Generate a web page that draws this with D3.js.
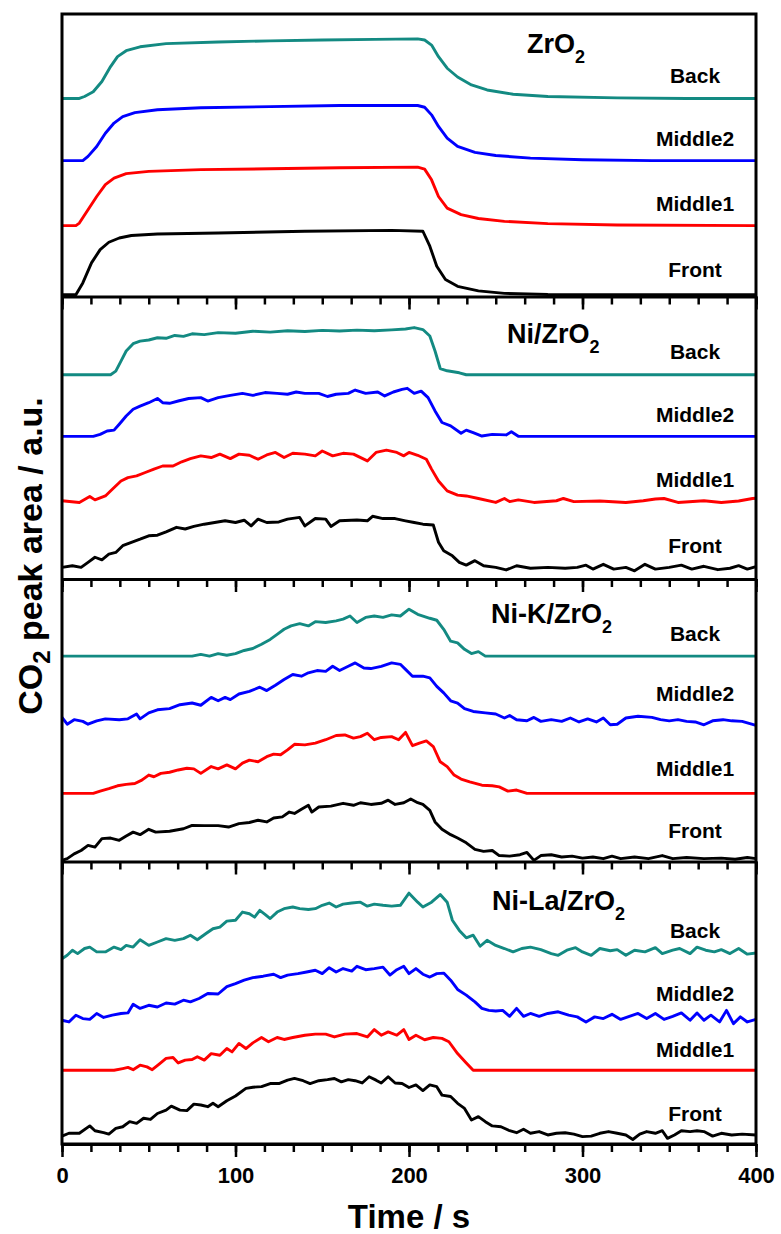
<!DOCTYPE html>
<html>
<head>
<meta charset="utf-8">
<title>CO2 peak area</title>
<script src="https://d3js.org/d3.v7.min.js"></script>
<style>
body { margin: 0; background: #fff; }
svg { display: block; font-family: Arial, 'Liberation Sans', sans-serif; font-weight: bold; }
.curve { fill: none; stroke-width: 2.9; stroke-linejoin: round; }
.frame { fill: none; stroke: #000; stroke-width: 3; }
.tick line { stroke: #000; stroke-width: 2.5; }
</style>
</head>
<body>
<div id="chart"></div>
<script>
// [time (s), CO2 peak area (a.u., 0-100 within each panel)]
var zro2Back = [[0,70.1],[10,70.1],[13,70.8],[18,72.5],[23,76.1],[28,81.4],[32,84.9],[37,87.0],[45,88.4],[60,89.5],[90,90.1],[120,90.5],[150,90.8],[180,91.0],[205,91.2],[209,90.8],[213,89.0],[217,84.9],[222,80.8],[228,77.7],[236,74.9],[245,73.1],[260,71.6],[280,70.8],[320,70.3],[360,70.1],[400,70.1]];
var zro2Middle2 = [[0,48.1],[12,48.1],[15,49.6],[20,53.1],[25,57.8],[30,61.4],[35,63.7],[42,65.1],[55,66.1],[80,66.8],[120,67.2],[160,67.6],[205,67.6],[209,67.0],[213,64.3],[217,60.2],[222,56.1],[228,53.1],[238,51.0],[250,49.9],[270,49.0],[300,48.4],[340,48.1],[400,48.1]];
var zro2Middle1 = [[0,25.1],[8,25.1],[10,26.0],[15,30.7],[20,35.4],[25,39.6],[30,41.9],[37,43.5],[50,44.3],[80,44.9],[120,45.2],[160,45.6],[205,45.8],[209,45.1],[213,41.3],[217,35.4],[222,31.3],[230,29.0],[240,27.6],[255,26.6],[280,25.8],[320,25.3],[400,25.1]];
var zro2Front = [[0,0.6],[8,0.6],[12,4.8],[17,11.9],[22,16.6],[27,19.2],[33,20.7],[40,21.6],[55,22.1],[90,22.5],[140,23.1],[190,23.4],[208,23.1],[212,17.8],[216,10.7],[221,6.0],[228,3.6],[240,2.0],[255,1.1],[280,0.7],[400,0.6]];

var niBack = [[0,72.3],[28,72.3],[31,73.6],[34,77.1],[37,80.7],[41,83.3],[45,84.2],[50,84.6],[55,85.4],[60,85.2],[65,86.2],[70,85.9],[75,86.8],[82,86.5],[90,87.2],[100,87.0],[110,87.7],[120,87.4],[130,87.9],[140,87.6],[150,88.0],[160,87.8],[170,88.1],[180,87.9],[190,88.2],[198,88.5],[203,89.0],[208,88.3],[212,86.0],[215,80.7],[218,74.5],[222,73.7],[229,73.0],[233,72.3],[400,72.3]];
var niMiddle2 = [[0,50.5],[18,50.5],[22,51.2],[26,52.4],[30,52.7],[33,54.8],[37,57.7],[41,60.1],[45,61.2],[50,62.4],[55,63.9],[58,62.4],[62,62.2],[67,63.0],[73,63.9],[80,64.2],[84,63.0],[90,64.2],[97,65.0],[104,65.7],[110,65.0],[117,66.0],[124,65.7],[130,65.4],[135,66.2],[140,65.7],[148,65.7],[153,64.6],[158,65.4],[165,65.7],[169,66.9],[175,65.7],[182,66.2],[186,64.8],[191,66.2],[196,67.1],[199,67.5],[203,65.7],[207,66.5],[211,64.2],[215,59.5],[219,55.4],[224,54.2],[230,51.6],[233,52.7],[237,51.8],[242,50.6],[248,51.2],[256,51.0],[259,52.1],[263,50.5],[400,50.5]];
var niMiddle1 = [[0,27.7],[10,27.1],[16,29.2],[19,28.0],[25,29.4],[29,31.8],[34,34.7],[38,35.9],[43,36.5],[48,37.7],[53,38.9],[58,40.0],[64,40.0],[69,41.5],[74,42.6],[80,43.6],[86,43.0],[91,44.2],[97,42.6],[102,44.2],[108,43.8],[113,42.4],[118,43.9],[123,44.8],[128,43.0],[133,44.5],[140,44.2],[146,43.6],[150,45.3],[156,43.6],[162,44.5],[168,44.2],[176,41.8],[181,44.8],[187,45.6],[193,44.8],[197,43.6],[200,44.8],[205,43.8],[210,42.4],[213,38.9],[217,34.7],[222,31.2],[228,29.7],[233,29.4],[240,28.5],[250,27.1],[255,28.5],[258,27.4],[263,28.0],[272,27.1],[285,27.7],[289,28.5],[295,27.4],[310,27.6],[325,27.1],[335,27.7],[342,28.3],[347,28.5],[355,27.1],[370,27.7],[380,27.1],[390,27.6],[398,28.5],[400,28.6]];
var niFront = [[0,4.1],[6,4.7],[11,4.1],[15,5.9],[19,7.7],[23,6.8],[27,8.8],[31,9.4],[35,11.8],[40,13.0],[45,14.1],[50,15.3],[55,15.5],[60,16.7],[66,18.3],[71,17.7],[76,18.6],[82,19.4],[88,20.0],[94,20.6],[100,20.0],[105,20.8],[109,18.8],[113,21.2],[118,20.0],[125,20.2],[130,21.2],[137,21.8],[140,18.8],[146,21.4],[152,21.2],[155,18.6],[160,20.6],[170,20.9],[176,20.6],[179,22.2],[185,21.4],[192,21.4],[198,20.6],[203,20.0],[208,19.4],[214,19.1],[217,13.0],[220,10.0],[225,8.2],[229,5.9],[233,4.9],[238,6.5],[243,4.7],[250,4.1],[256,3.2],[262,4.7],[270,3.8],[280,4.1],[290,3.8],[297,4.1],[302,4.9],[306,3.5],[312,5.2],[318,3.5],[325,4.1],[330,2.9],[336,5.2],[342,3.5],[350,4.1],[357,4.9],[363,3.5],[370,4.5],[378,3.3],[385,3.8],[390,4.7],[395,3.5],[400,4.4]];

var nikBack = [[0,72.7],[75,72.7],[80,73.3],[85,72.7],[90,73.6],[95,73.0],[100,73.6],[105,74.7],[110,75.4],[115,76.9],[120,78.6],[124,80.4],[128,82.2],[132,83.4],[137,84.2],[142,83.4],[146,84.9],[152,84.6],[158,85.2],[162,85.8],[166,86.9],[170,84.6],[175,86.4],[180,86.9],[185,86.4],[190,87.3],[195,86.9],[200,89.3],[205,87.5],[212,86.1],[216,85.4],[220,82.2],[224,78.0],[228,77.4],[232,75.1],[236,73.6],[240,74.3],[244,72.7],[400,72.7]];
var nikMiddle2 = [[0,51.0],[3,48.6],[7,50.2],[12,49.6],[15,48.6],[20,49.8],[25,50.5],[33,50.2],[38,50.5],[43,52.2],[45,50.5],[50,52.6],[55,53.7],[62,54.1],[68,55.5],[75,56.1],[80,55.3],[86,58.1],[90,56.9],[94,58.1],[97,57.3],[102,59.3],[108,60.2],[114,61.7],[118,60.5],[123,62.4],[128,64.4],[133,66.2],[138,65.6],[142,66.8],[147,67.6],[152,67.3],[156,69.1],[160,67.6],[165,69.1],[169,70.3],[174,68.5],[178,68.3],[184,69.1],[190,70.3],[195,69.8],[198,68.0],[202,65.6],[208,65.6],[212,65.0],[216,62.0],[220,59.7],[224,56.9],[228,56.1],[232,54.1],[237,53.1],[244,52.6],[250,52.2],[255,50.8],[258,51.7],[262,50.2],[268,49.8],[272,51.0],[276,49.6],[282,50.2],[288,49.6],[293,50.8],[298,49.4],[303,50.5],[308,49.4],[312,50.8],[316,48.4],[320,48.6],[325,50.8],[332,51.4],[340,51.0],[345,50.2],[350,49.8],[355,50.2],[360,49.6],[365,49.4],[370,48.4],[375,49.8],[381,50.2],[386,49.8],[392,49.6],[400,48.2]];
var nikMiddle1 = [[0,24.1],[18,24.1],[22,24.9],[27,25.8],[32,26.8],[37,27.3],[42,27.6],[46,28.8],[50,30.6],[53,30.0],[57,31.2],[62,31.6],[67,32.4],[72,33.0],[76,32.8],[80,31.2],[86,33.6],[90,32.8],[95,34.2],[100,32.8],[104,34.8],[108,35.9],[113,35.3],[118,37.1],[122,38.0],[126,37.8],[130,39.5],[134,41.5],[140,41.3],[146,41.9],[152,43.1],[158,44.6],[163,44.8],[168,43.7],[172,44.2],[176,45.4],[180,43.1],[184,43.9],[190,44.2],[194,43.1],[198,45.7],[202,41.0],[206,41.9],[210,42.7],[214,40.7],[218,35.3],[222,33.6],[226,30.6],[230,29.2],[235,28.2],[242,27.0],[248,26.8],[252,26.4],[257,24.9],[262,25.3],[268,24.1],[400,24.1]];
var nikFront = [[0,0.4],[3,1.0],[7,2.7],[11,3.9],[15,5.7],[19,5.1],[23,8.1],[28,8.3],[33,7.5],[37,9.0],[41,10.4],[45,9.5],[50,11.4],[54,10.4],[62,10.7],[70,11.6],[75,12.8],[82,12.7],[90,12.7],[96,12.2],[102,13.4],[108,13.8],[113,14.6],[118,14.0],[122,15.4],[127,15.8],[131,17.5],[134,17.0],[138,18.5],[142,19.9],[144,17.5],[148,19.3],[155,19.6],[162,20.6],[168,19.9],[172,20.8],[178,20.2],[184,20.6],[188,21.7],[192,20.2],[197,20.8],[201,22.1],[205,20.8],[208,20.2],[212,18.1],[215,14.0],[219,11.4],[224,9.5],[228,8.3],[233,6.6],[238,4.3],[243,3.6],[248,3.9],[252,2.1],[258,1.9],[264,2.4],[268,3.2],[272,0.4],[276,2.1],[282,2.4],[288,1.6],[294,1.9],[300,1.2],[306,1.6],[312,1.0],[317,1.9],[322,1.0],[330,1.6],[338,1.0],[346,2.1],[352,1.0],[360,1.4],[370,1.0],[380,1.2],[388,0.8],[395,1.4],[400,1.0]];

var nilaBack = [[0,65.6],[3,66.8],[6,68.6],[9,67.4],[13,69.2],[16,69.7],[20,68.0],[25,68.0],[30,69.7],[34,68.8],[37,70.3],[41,69.7],[45,72.3],[50,70.3],[55,71.5],[60,72.7],[65,72.1],[70,72.7],[74,73.9],[78,72.3],[83,74.5],[87,76.2],[91,76.8],[95,78.9],[100,79.2],[104,82.1],[108,81.5],[111,80.3],[114,82.7],[117,81.3],[120,79.8],[124,82.1],[128,83.3],[133,83.9],[137,83.3],[142,83.0],[146,83.3],[150,84.5],[154,85.3],[158,83.9],[162,84.9],[167,85.3],[172,85.6],[176,84.2],[180,84.9],[185,84.5],[190,84.2],[195,84.5],[200,88.8],[205,85.6],[208,83.9],[213,85.6],[218,88.3],[222,85.6],[225,79.2],[229,75.6],[233,73.0],[237,73.9],[241,70.0],[245,72.1],[250,70.3],[255,69.2],[260,68.0],[265,69.2],[270,69.7],[276,68.8],[282,67.4],[286,66.8],[291,68.6],[296,69.5],[300,68.0],[305,66.8],[310,69.2],[316,68.4],[320,68.8],[325,66.8],[330,68.6],[336,68.0],[342,69.5],[346,67.4],[352,68.6],[356,69.2],[362,67.4],[366,69.7],[371,68.6],[376,68.0],[380,68.8],[385,67.4],[390,69.2],[395,67.2],[400,67.6]];
var nilaMiddle2 = [[0,43.8],[4,43.2],[8,45.6],[12,44.4],[16,44.1],[20,46.2],[24,44.8],[29,45.6],[34,46.2],[38,46.4],[41,49.5],[45,48.0],[50,49.1],[55,48.5],[60,49.9],[65,49.5],[70,50.9],[74,50.3],[79,51.5],[84,53.3],[90,53.1],[95,55.7],[100,56.8],[105,58.0],[110,58.9],[116,59.4],[122,60.1],[126,58.9],[130,59.8],[136,60.3],[141,60.9],[146,61.5],[150,60.3],[154,62.4],[158,60.9],[162,62.1],[167,61.2],[170,62.9],[175,61.7],[180,62.1],[185,62.6],[189,59.8],[193,61.7],[197,62.9],[200,60.3],[204,62.1],[208,60.1],[212,59.1],[216,60.3],[220,60.5],[224,58.0],[228,54.7],[233,52.7],[238,50.3],[242,48.0],[246,47.3],[250,47.1],[254,47.3],[258,45.2],[262,48.0],[266,45.2],[270,46.2],[275,45.2],[280,46.2],[286,46.8],[292,45.6],[297,45.0],[302,43.2],[307,45.0],[312,44.4],[317,45.9],[322,44.1],[327,45.2],[332,46.2],[337,44.4],[342,46.2],[347,44.1],[352,45.2],[357,46.4],[362,43.8],[366,46.4],[370,43.8],[374,45.6],[379,43.2],[383,47.3],[387,42.6],[391,45.0],[395,43.2],[400,44.1]];
var nilaMiddle1 = [[0,26.1],[30,26.1],[35,26.7],[38,27.1],[41,26.3],[45,27.9],[49,27.3],[52,26.3],[56,28.3],[60,30.3],[64,30.6],[67,28.7],[71,29.7],[75,29.9],[78,30.9],[82,29.7],[86,32.0],[91,31.4],[95,33.8],[98,32.6],[102,35.6],[106,33.8],[110,35.8],[115,37.7],[119,36.2],[124,37.7],[128,37.0],[133,37.7],[140,38.5],[146,38.9],[152,38.9],[157,37.9],[163,38.9],[170,39.1],[176,37.9],[180,40.5],[184,38.5],[188,39.7],[193,38.5],[197,40.5],[200,37.0],[204,38.5],[209,36.9],[214,37.7],[219,37.4],[223,36.2],[228,32.0],[233,28.7],[237,26.1],[400,26.1]];
var nilaFront = [[0,2.8],[4,3.8],[10,3.8],[16,6.4],[19,4.7],[24,4.0],[27,3.5],[31,5.5],[35,6.1],[39,7.9],[43,7.3],[47,9.1],[51,8.7],[55,10.8],[60,12.0],[63,13.4],[68,12.0],[72,11.8],[76,14.1],[80,13.8],[84,13.2],[87,14.4],[90,13.2],[95,15.3],[100,17.0],[106,19.7],[110,20.1],[115,20.3],[120,21.4],[125,21.4],[130,22.6],[134,23.2],[139,22.4],[143,21.4],[148,22.4],[153,22.8],[157,23.2],[161,22.0],[165,22.8],[169,22.4],[173,21.6],[177,23.8],[181,22.6],[184,21.6],[188,23.8],[192,21.6],[196,21.4],[200,20.0],[204,20.9],[208,18.9],[212,20.9],[216,20.3],[219,17.3],[224,16.8],[228,14.4],[232,12.6],[236,8.5],[240,9.7],[244,7.9],[248,6.4],[253,6.1],[258,4.7],[262,4.0],[266,5.2],[270,3.8],[275,4.4],[280,3.2],[285,3.8],[290,4.0],[295,3.5],[300,2.6],[305,2.8],[310,3.8],[315,4.4],[320,3.8],[325,3.2],[329,1.6],[333,3.5],[337,4.4],[342,3.8],[346,4.7],[349,2.0],[353,3.2],[357,4.7],[362,4.4],[366,4.7],[370,4.4],[375,2.8],[380,3.8],[386,3.2],[392,3.5],[400,3.2]];

var catalysts = ["ZrO|2", "Ni/ZrO|2", "Ni-K/ZrO|2", "Ni-La/ZrO|2"];
var positions = ["Back", "Middle2", "Middle1", "Front"];
var colors = ["#138a82", "#0000ff", "#ff0000", "#000000"];
var panelData = [
  [zro2Back, zro2Middle2, zro2Middle1, zro2Front],
  [niBack, niMiddle2, niMiddle1, niFront],
  [nikBack, nikMiddle2, nikMiddle1, nikFront],
  [nilaBack, nilaMiddle2, nilaMiddle1, nilaFront]
];
var xTicks = [0, 100, 200, 300, 400];

// layout
var W = 781, H = 1234;
var plotL = 62, plotR = 756, plotT = 14, plotB = 1144;
var ph = (plotB - plotT) / 4;
// label baselines, px from panel top
var labelY = [[69, 132, 197, 263], [62, 125, 190, 256], [62, 122, 197, 259], [76, 139, 195, 259]];
var titlePos = [[527, 39], [507, 46], [491, 44], [492, 48]];

var svg = d3.select("#chart").append("svg")
  .attr("width", W).attr("height", H);

var x = d3.scaleLinear().domain([0, 400]).range([plotL, plotR]);
var minor = d3.range(0, 401, 100 / 6).map(function (d) { return Math.round(d * 100) / 100; });

var line = d3.line();

panelData.forEach(function (curves, p) {
  var y0 = plotT + p * ph;
  var y = d3.scaleLinear().domain([0, 100]).range([y0 + ph, y0]);
  var g = svg.append("g");

  curves.forEach(function (s, i) {
    line.x(function (d) { return x(d[0]); }).y(function (d) { return y(d[1]); });
    g.append("path").attr("class", "curve")
      .attr("stroke", colors[i])
      .attr("d", line(s));
    g.append("text")
      .attr("x", 695).attr("y", y0 + labelY[p][i])
      .attr("text-anchor", "middle")
      .attr("font-size", 21)
      .text(positions[i]);
  });

  var parts = catalysts[p].split("|");
  var t = g.append("text")
    .attr("x", titlePos[p][0]).attr("y", y0 + titlePos[p][1])
    .attr("font-size", 27);
  t.append("tspan").text(parts[0]);
  t.append("tspan").attr("dy", 10).attr("font-size", 18).text(parts[1]);

  // bottom axis of each panel: minor then major ticks
  var minAx = d3.axisBottom(x).tickValues(minor).tickSize(8).tickFormat("");
  g.append("g").attr("transform", "translate(0," + (y0 + ph) + ")").call(minAx)
    .call(function (a) { a.select(".domain").remove(); });
  var majAx = d3.axisBottom(x).tickValues(xTicks).tickSize(13).tickSizeOuter(0).tickPadding(10)
    .tickFormat(p === 3 ? d3.format("d") : "");
  var ag = g.append("g").attr("transform", "translate(0," + (y0 + ph) + ")").call(majAx);
  ag.select(".domain").attr("stroke-width", 3);
  ag.selectAll("text").attr("font-size", 22).attr("fill", "#000")
    .attr("font-family", "Arial, 'Liberation Sans', sans-serif").attr("font-weight", "bold");
});

svg.append("rect").attr("class", "frame")
  .attr("x", plotL).attr("y", plotT)
  .attr("width", plotR - plotL).attr("height", plotB - plotT);

svg.append("text")
  .attr("x", (plotL + plotR) / 2).attr("y", 1228)
  .attr("text-anchor", "middle").attr("font-size", 33)
  .text("Time / s");

var yl = svg.append("text")
  .attr("transform", "translate(42," + 556 + ") rotate(-90)")
  .attr("text-anchor", "middle").attr("font-size", 34);
yl.append("tspan").text("CO");
yl.append("tspan").attr("dy", 8).attr("font-size", 24).text("2");
yl.append("tspan").attr("dy", -8).text(" peak area / a.u.");
</script>
</body>
</html>
